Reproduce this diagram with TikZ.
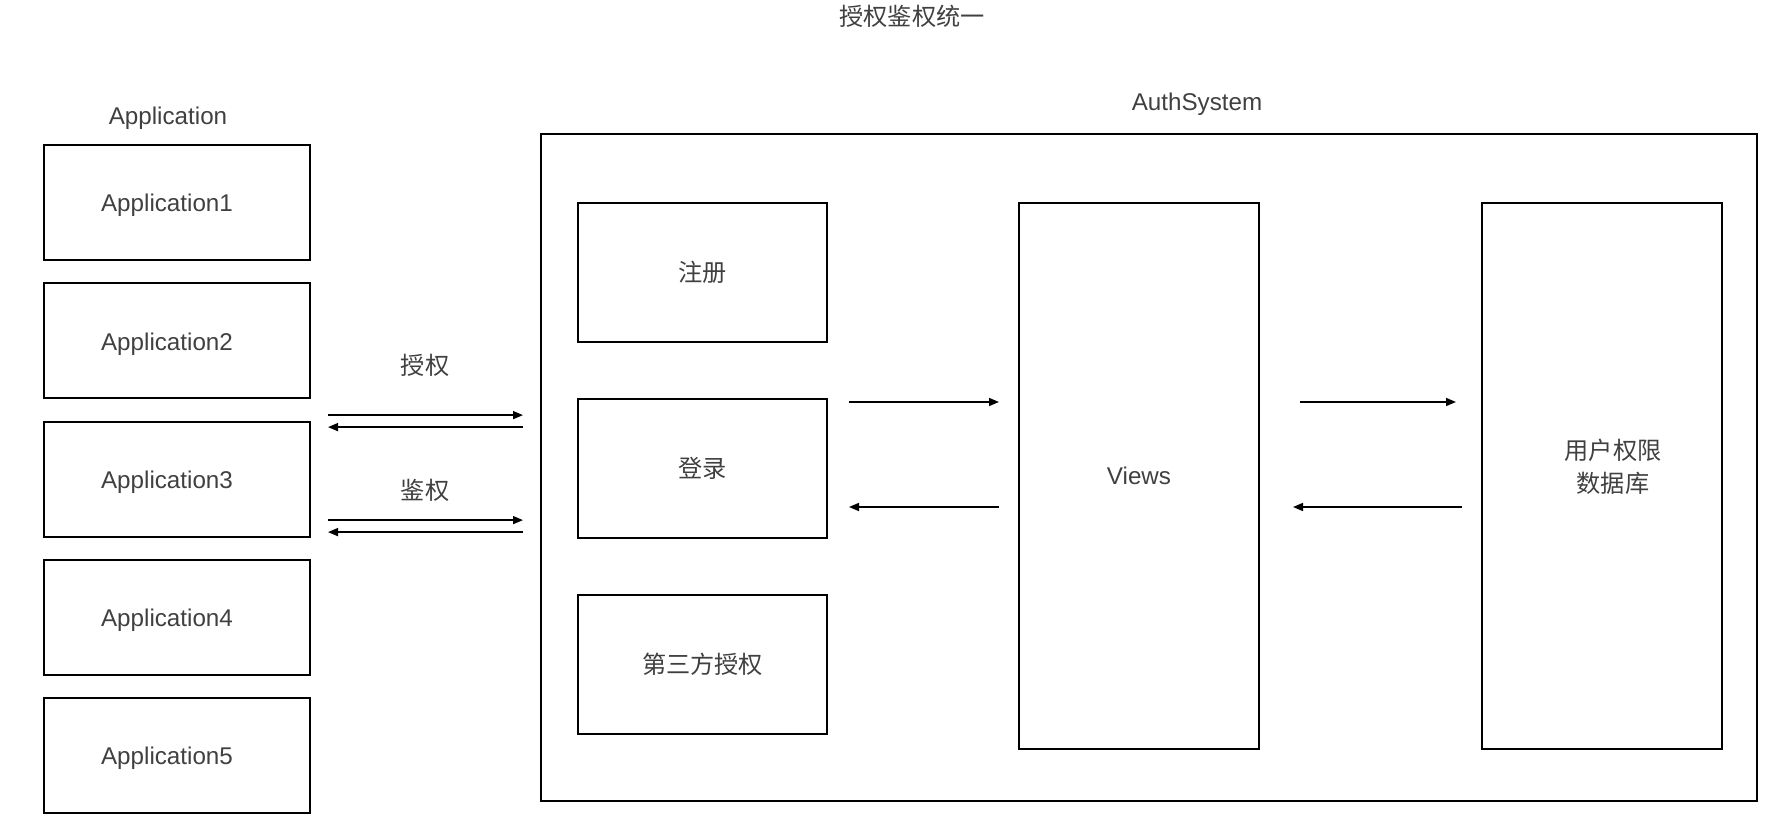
\documentclass[tikz,border=0pt]{standalone}
\usepackage{fontspec}
\setmainfont{Liberation Sans}
\newfontfamily\cjk{Noto Sans CJK SC}
\usepackage{xcolor}
\usetikzlibrary{arrows.meta}
\definecolor{labelgray}{HTML}{404040}

\begin{document}
\begin{tikzpicture}[x=0.5pt,y=-0.5pt,>={Triangle[length=5pt,width=4pt]},
  font=\fontsize{12.1}{16.5}\selectfont,
  box/.style={draw,line width=1pt,inner sep=0pt,text=labelgray,align=center},
  appbox/.style={box,minimum width=133pt,minimum height=57.5pt},
  funcbox/.style={box,minimum width=124.5pt,minimum height=69.5pt},
  tallbox/.style={box,minimum width=120pt,minimum height=273pt},
  lbl/.style={text=labelgray},
  arr/.style={->,line width=0.8pt}]
\useasboundingbox (0,0) rectangle (1787,823);
% titles
\node[lbl] (title) at (912,16) {\cjk 授权鉴权统一};
\node[lbl] (applbl) at (168,118) {Application};
\node[lbl] (authlbl) at (1197,104) {AuthSystem};
% applications
\foreach \i in {1,...,5}
  \node[appbox,label={[lbl,xshift=-5pt,yshift=-1.5pt]center:Application\i}] (app\i) at (177,{202.5+138.3*(\i-1)}) {};
% auth system
\node[box,minimum width=608pt,minimum height=333.5pt] (auth) at (1149,467.5) {};
\node[funcbox] (reg) at (702.5,272.5) {\cjk 注册};
\node[funcbox] (login) at (702.5,468.5) {\cjk 登录};
\node[funcbox] (third) at (702.5,664.5) {\cjk 第三方授权};
\node[tallbox] (views) at (1139,476) {Views};
\node[tallbox] (db) at (1602,476) {};
\node[lbl,align=center] (dbtext) at (1613,467) {\cjk 用户权限\\\cjk 数据库};
% app <-> auth
\node[lbl] (grant) at (425,365) {\cjk 授权};
\node[lbl] (check) at (425,490) {\cjk 鉴权};
\coordinate (g1) at ([yshift=32pt]app3.east);
\coordinate (g2) at ([yshift=26pt]app3.east);
\coordinate (c1) at ([yshift=-20.5pt]app3.east);
\coordinate (c2) at ([yshift=-26.5pt]app3.east);
\draw[arr,shorten <=8.5pt,shorten >=8.5pt] (g1) -- (g1 -| auth.west);
\draw[arr,shorten <=8.5pt,shorten >=8.5pt] (g2 -| auth.west) -- (g2);
\draw[arr,shorten <=8.5pt,shorten >=8.5pt] (c1) -- (c1 -| auth.west);
\draw[arr,shorten <=8.5pt,shorten >=8.5pt] (c2 -| auth.west) -- (c2);
% login <-> views <-> db
\coordinate (up) at ([yshift=37pt]views.center);
\coordinate (dn) at ([yshift=-15.5pt]views.center);
\draw[arr,shorten <=10.5pt,shorten >=9.5pt] (up -| login.east) -- (up -| views.west);
\draw[arr,shorten <=9.5pt,shorten >=10.5pt] (dn -| views.west) -- (dn -| login.east);
\draw[arr,shorten <=20pt,shorten >=12.5pt] (up -| views.east) -- (up -| db.west);
\draw[arr,shorten <=9.5pt,shorten >=16.5pt] (dn -| db.west) -- (dn -| views.east);
\end{tikzpicture}
\end{document}
